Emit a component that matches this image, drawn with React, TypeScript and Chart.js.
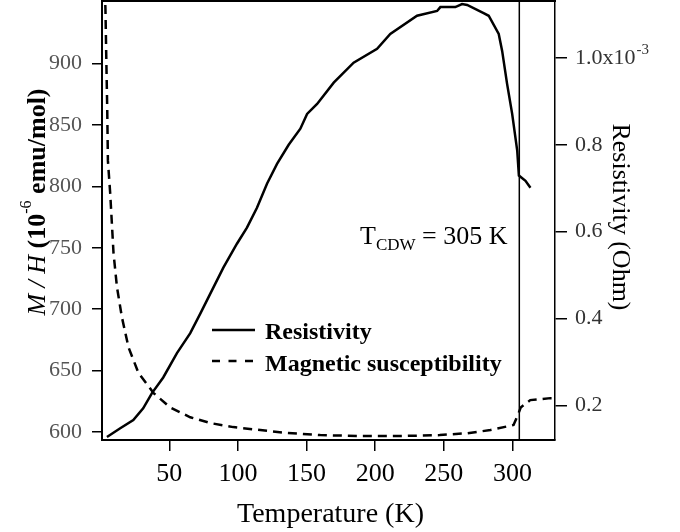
import React, { useEffect, useRef } from "react";
import { Chart, registerables } from "chart.js";

Chart.register(...registerables);

// ---- data ----
const resT = [4.6, 14.3, 23.8, 31, 37.4, 45.6, 55.6, 65.3, 72.6, 79.9, 89.4, 99.3, 106.6, 113.9, 121.2, 128.5, 137, 145.5, 150.4, 157.7, 169.8, 184.3, 201.4, 211, 230.5, 245.1, 247.5, 258.4, 263.3, 267, 279, 282.7, 290, 292.5, 296.1, 299.8, 303.5, 304.7, 309.5, 313.1];
const resistivityE3 = [0.127, 0.147, 0.166, 0.193, 0.228, 0.264, 0.320, 0.366, 0.411, 0.457, 0.517, 0.572, 0.609, 0.655, 0.710, 0.756, 0.800, 0.837, 0.871, 0.894, 0.943, 0.989, 1.021, 1.055, 1.097, 1.108, 1.117, 1.117, 1.124, 1.122, 1.103, 1.097, 1.055, 1.016, 0.940, 0.871, 0.786, 0.729, 0.717, 0.701];

const magT = [3.0, 3.5, 4.2, 4.8, 5.3, 7, 9.4, 11.9, 15.5, 20.3, 27.6, 38.6, 50.7, 65.3, 79.9, 96.6, 116.3, 135.8, 160, 189, 218, 247, 267, 284, 300.8, 304.5, 306, 313, 327.6, 331];
const magMH = [960, 945, 900, 864, 821, 794, 745.5, 718, 693.5, 669, 648, 631.7, 620, 612, 607.3, 604, 601.6, 599.2, 597.5, 596.7, 596.7, 597.5, 599, 601.6, 605.7, 615.4, 620, 626, 627.6, 627.6];

const xTicks = [50, 100, 150, 200, 250, 300];
const leftTicks = [600, 650, 700, 750, 800, 850, 900];
const rightTicks = [0.2, 0.4, 0.6, 0.8, 1.0];
const xRange = [1, 331];
const leftRange = [593.5, 951];
const rightRange = [0.12, 1.131];
const tcdw = 305;

const SERIF = "'Liberation Serif', 'Times New Roman', serif";

const zeroPad = (s: any) => {
  s.paddingTop = 0;
  s.paddingBottom = 0;
  s.paddingLeft = 0;
  s.paddingRight = 0;
};

const annotPlugin = {
  id: "annot",
  afterDraw(chart: any) {
    const ctx = chart.ctx as CanvasRenderingContext2D;
    const { left, right, top, bottom } = chart.chartArea;
    const xs = chart.scales.x;
    const yR = chart.scales.yR;
    ctx.save();
    ctx.strokeStyle = "#000";
    ctx.fillStyle = "#000";
    // top frame line
    ctx.lineWidth = 2;
    ctx.beginPath();
    ctx.moveTo(left - 1, top);
    ctx.lineTo(right + 1, top);
    ctx.stroke();
    // T_CDW vertical line
    const xv = xs.getPixelForValue(tcdw);
    ctx.lineWidth = 1.5;
    ctx.beginPath();
    ctx.moveTo(xv, top);
    ctx.lineTo(xv, bottom);
    ctx.stroke();

    // superscript on right tick label 1.0x10^-3
    ctx.font = `22px ${SERIF}`;
    const base = "1.0x10";
    const w = ctx.measureText(base).width;
    const yp = yR.getPixelForValue(1.0);
    const lx = yR.left + 12 + 8;
    ctx.fillStyle = "#333";
    ctx.font = `15px ${SERIF}`;
    ctx.textBaseline = "alphabetic";
    ctx.textAlign = "left";
    ctx.fillText("-3", lx + w + 1, yp - 4);
    ctx.fillStyle = "#000";

    // legend
    ctx.lineWidth = 2.5;
    ctx.beginPath();
    ctx.moveTo(212, 330);
    ctx.lineTo(255, 330);
    ctx.stroke();
    ctx.setLineDash([8, 8.5]);
    ctx.beginPath();
    ctx.moveTo(212, 361);
    ctx.lineTo(255, 361);
    ctx.stroke();
    ctx.setLineDash([]);
    ctx.font = `bold 24px ${SERIF}`;
    ctx.fillText("Resistivity", 265, 339);
    ctx.fillText("Magnetic susceptibility", 265, 371);

    // T_CDW annotation
    let ax = 360;
    const ay = 244;
    ctx.font = `26px ${SERIF}`;
    ctx.fillText("T", ax, ay);
    ax += ctx.measureText("T").width;
    ctx.font = `17px ${SERIF}`;
    ctx.fillText("CDW", ax, ay + 6);
    ax += ctx.measureText("CDW").width;
    ctx.font = `26px ${SERIF}`;
    ctx.fillText(" = 305 K", ax, ay);

    // x axis title
    ctx.font = `28px ${SERIF}`;
    ctx.textAlign = "center";
    ctx.fillText("Temperature (K)", (left + right) / 2 + 2, 522);

    // left axis title (rotated)
    const parts = [
      { t: "M / H", f: `italic 26px ${SERIF}`, dy: 0 },
      { t: " (10", f: `bold 26px ${SERIF}`, dy: 0 },
      { t: "-6", f: `16px ${SERIF}`, dy: -14 },
      { t: " emu/mol)", f: `bold 26px ${SERIF}`, dy: 0 },
    ];
    let total = 0;
    for (const p of parts) {
      ctx.font = p.f;
      total += ctx.measureText(p.t).width;
    }
    ctx.save();
    ctx.translate(45, 202);
    ctx.rotate(-Math.PI / 2);
    ctx.textAlign = "left";
    let px = -total / 2;
    for (const p of parts) {
      ctx.font = p.f;
      ctx.fillText(p.t, px, p.dy);
      px += ctx.measureText(p.t).width;
    }
    ctx.restore();

    // right axis title (rotated clockwise)
    ctx.save();
    ctx.translate(613, 217);
    ctx.rotate(Math.PI / 2);
    ctx.textAlign = "center";
    ctx.font = `26px ${SERIF}`;
    ctx.fillText("Resistivity (Ohm)", 0, 0);
    ctx.restore();

    ctx.restore();
  },
};

export default function App() {
  const ref = useRef<HTMLCanvasElement | null>(null);
  useEffect(() => {
    if (!ref.current) return;
    const chart = new Chart(ref.current, {
      type: "line",
      data: {
        datasets: [
          {
            label: "Resistivity",
            data: resT.map((t, i) => ({ x: t, y: resistivityE3[i] })),
            yAxisID: "yR",
            borderColor: "#000",
            borderWidth: 2.5,
            pointRadius: 0,
            tension: 0,
            fill: false,
          },
          {
            label: "Magnetic susceptibility",
            data: magT.map((t, i) => ({ x: t, y: magMH[i] })),
            yAxisID: "yL",
            borderColor: "#000",
            borderWidth: 2.5,
            borderDash: [9, 6],
            pointRadius: 0,
            tension: 0,
            fill: false,
          },
        ],
      },
      options: {
        animation: false,
        responsive: false,
        maintainAspectRatio: false,
        layout: { padding: { top: 1, left: 0, right: 0, bottom: 0 } },
        plugins: { legend: { display: false }, tooltip: { enabled: false } },
        scales: {
          x: {
            type: "linear",
            position: "bottom",
            min: xRange[0],
            max: xRange[1],
            afterFit: (s: any) => { s.height = 92; zeroPad(s); },
            afterBuildTicks: (s: any) => { s.ticks = xTicks.map((v) => ({ value: v })); },
            grid: { drawOnChartArea: false, drawTicks: true, tickLength: 11, color: "#000", lineWidth: 1.5 },
            border: { display: true, color: "#000", width: 2 },
            ticks: { font: { family: SERIF, size: 26 }, color: "#000", padding: 8, maxRotation: 0, autoSkip: false },
          },
          yL: {
            type: "linear",
            position: "left",
            min: leftRange[0],
            max: leftRange[1],
            afterFit: (s: any) => { s.width = 102; zeroPad(s); },
            afterBuildTicks: (s: any) => { s.ticks = leftTicks.map((v) => ({ value: v })); },
            grid: { drawOnChartArea: false, drawTicks: true, tickLength: 10, color: "#000", lineWidth: 1.5 },
            border: { display: true, color: "#000", width: 2 },
            ticks: { font: { family: SERIF, size: 22 }, color: "#555", padding: 10, autoSkip: false },
          },
          yR: {
            type: "linear",
            position: "right",
            min: rightRange[0],
            max: rightRange[1],
            afterFit: (s: any) => { s.width = 125; zeroPad(s); },
            afterBuildTicks: (s: any) => { s.ticks = rightTicks.map((v) => ({ value: v })); },
            grid: { drawOnChartArea: false, drawTicks: true, tickLength: 12, color: "#000", lineWidth: 1.5 },
            border: { display: true, color: "#000", width: 1.5 },
            ticks: {
              font: { family: SERIF, size: 22 },
              color: "#333",
              padding: 8,
              autoSkip: false,
              callback: (v: any) => (Math.abs(v - 1) < 1e-9 ? "1.0x10" : Number(v).toFixed(1)),
            },
          },
        },
      },
      plugins: [annotPlugin],
    });
    return () => chart.destroy();
  }, []);
  return (
    <div style={{ position: "absolute", left: 0, top: 0, width: 680, height: 532, background: "#fff" }}>
      <canvas ref={ref} width={680} height={532} style={{ display: "block" }} />
    </div>
  );
}
